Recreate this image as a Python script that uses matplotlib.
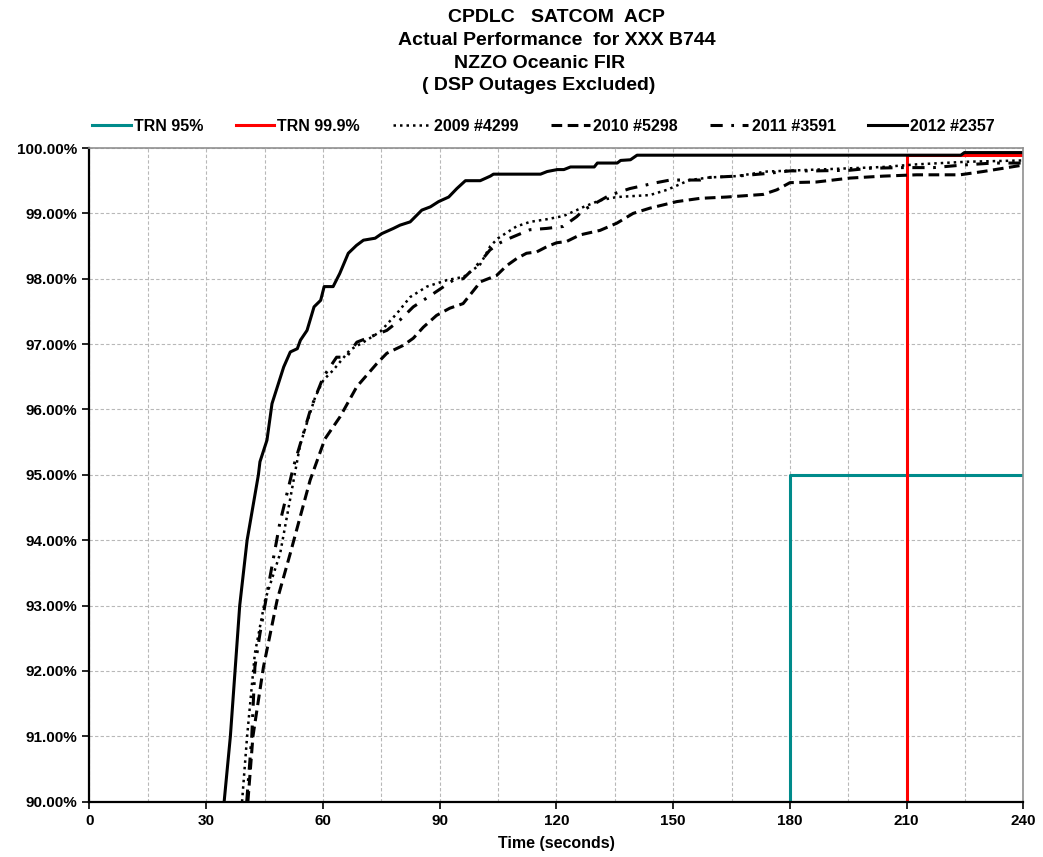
import matplotlib
matplotlib.use('Agg')
import matplotlib.pyplot as plt
from matplotlib.ticker import FuncFormatter, MultipleLocator

plt.rcParams['font.family'] = ['Liberation Sans', 'DejaVu Sans']
plt.rcParams['font.weight'] = 'bold'

# data (seconds, percent)
trn95_x = [180, 180, 240]
trn95_y = [90.0, 95.0, 95.0]
trn999_x = [210, 210, 240]
trn999_y = [90.0, 99.9, 99.9]

y2009_x = [39.2, 40.5, 41.6, 42.5, 45.1, 49.0, 51.5, 54.1, 55.9, 58.0, 60.1, 62.6,
           66.9, 70.4, 74.7, 79.0, 82.4, 86.7, 91.9, 96.2, 100.4, 103.0, 105.0,
           106.3, 109.7, 113.2, 117.5, 121.8, 125.2, 127.0, 131.2, 135.5, 144.0,
           148.4, 154.2, 159.4, 166.3, 174.0, 182.6, 195.5, 204.0, 212.6, 225.5, 240]
y2009_y = [90.0, 91.0, 91.7, 92.27, 93.08, 93.8, 94.61, 95.45, 95.8, 96.19, 96.45, 96.6,
           96.91, 97.03, 97.19, 97.47, 97.72, 97.88, 97.98, 98.03, 98.22, 98.5, 98.62,
           98.67, 98.80, 98.87, 98.91, 98.96, 99.05, 99.10, 99.20, 99.25, 99.28,
           99.36, 99.51, 99.55, 99.57, 99.64, 99.66, 99.69, 99.71, 99.75, 99.79, 99.81]

y2010_x = [40.7, 42.0, 43.4, 44.7, 48.2, 51.6, 54.1, 56.7, 60.5, 64.4, 68.7, 73.8,
           76.4, 80.6, 83.2, 85.8, 89.2, 92.6, 96.0, 99.5, 100.3, 104.6, 107.2,
           109.8, 112.3, 114.9, 117.5, 120.0, 122.6, 126.0, 131.2, 135.5, 139.7,
           144.0, 150.9, 156.9, 163.7, 173.1, 176.6, 180.0, 186.8, 195.4, 204.0,
           212.5, 223.7, 229.6, 240]
y2010_y = [90.0, 91.0, 91.55, 92.06, 93.08, 93.8, 94.35, 94.92, 95.55, 95.89, 96.35, 96.70,
           96.86, 96.98, 97.09, 97.26, 97.44, 97.55, 97.62, 97.88, 97.95, 98.05, 98.2,
           98.31, 98.39, 98.41, 98.49, 98.55, 98.57, 98.67, 98.74, 98.85, 99.0,
           99.08, 99.18, 99.23, 99.25, 99.29, 99.36, 99.47, 99.48, 99.54, 99.57,
           99.59, 99.59, 99.64, 99.74]

y2011_x = [40.4, 41.7, 42.5, 43.8, 45.9, 48.9, 52.4, 56.9, 60.1, 63.5, 66.0, 68.7,
           76.4, 79.8, 83.2, 88.3, 93.5, 96.0, 100.3, 102.9, 105.5, 108.0, 113.2,
           117.5, 121.7, 125.2, 126.9, 133.7, 138.9, 145.7, 149.2, 156.9, 159.4,
           166.3, 174.0, 180.0, 186.8, 195.4, 200.5, 208.2, 216.8, 224.5, 232.2, 240]
y2011_y = [90.0, 91.0, 92.06, 92.57, 93.28, 94.26, 95.12, 96.02, 96.50, 96.80, 96.80, 97.03,
           97.21, 97.37, 97.57, 97.77, 97.98, 98.00, 98.25, 98.44, 98.55, 98.62, 98.75,
           98.77, 98.8, 98.95, 99.05, 99.28, 99.38, 99.47, 99.51, 99.51, 99.55,
           99.57, 99.61, 99.65, 99.65, 99.66, 99.69, 99.70, 99.70, 99.74, 99.77, 99.77]

y2012_x = [34.6, 36.2, 37.4, 38.6, 40.5, 43.4, 43.8, 45.6, 46.9, 49.9, 51.6, 53.4,
           54.2, 55.9, 57.7, 59.4, 60.3, 62.6, 64.3, 66.5, 68.6, 70.4, 73.4, 75.1,
           78.1, 79.8, 82.4, 85.4, 87.6, 89.7, 92.3, 94.4, 96.6, 100.4, 103.0, 103.8,
           115.9, 117.6, 120.2, 121.9, 123.6, 129.7, 130.5, 135.6, 136.5, 139.0,
           140.7, 223.9, 224.8, 240]
y2012_y = [90.0, 91.0, 92.0, 93.0, 94.0, 95.0, 95.2, 95.53, 96.09, 96.65, 96.88, 96.93,
           97.06, 97.21, 97.57, 97.67, 97.88, 97.88, 98.08, 98.39, 98.51, 98.59, 98.62, 98.69,
           98.77, 98.82, 98.87, 99.05, 99.10, 99.18, 99.25, 99.38, 99.50, 99.50, 99.57, 99.60,
           99.60, 99.64, 99.67, 99.67, 99.71, 99.71, 99.77, 99.77, 99.81, 99.82,
           99.89, 99.89, 99.93, 99.93]

x_ticks = [0, 30, 60, 90, 120, 150, 180, 210, 240]

fig = plt.figure(figsize=(10.43, 8.57), dpi=100)
ax = fig.add_axes([0.0858, 0.0645, 0.8955, 0.7628])

ax.plot(trn95_x, trn95_y, color='#008b8b', lw=2.2, label='TRN 95%')
ax.plot(trn999_x, trn999_y, color='#ff0000', lw=2.2, label='TRN 99.9%')
ax.plot(y2009_x, y2009_y, color='black', lw=1.8, linestyle=(0, (1, 1.6)), label='2009 #4299')
ax.plot(y2010_x, y2010_y, color='black', lw=2.2, linestyle=(0, (3.5, 1.8)), label='2010 #5298')
ax.plot(y2011_x, y2011_y, color='black', lw=2.2, linestyle=(0, (4, 2.8, 0.9, 2.8)), label='2011 #3591')
ax.plot(y2012_x, y2012_y, color='black', lw=2.2, label='2012 #2357')

ax.set_xlim(0, 240)
ax.set_ylim(90, 100)
ax.set_xticks(x_ticks)
ax.xaxis.set_minor_locator(MultipleLocator(15))
ax.yaxis.set_major_locator(MultipleLocator(1))
ax.yaxis.set_major_formatter(FuncFormatter(lambda v, p: '%.2f%%' % v))
ax.tick_params(axis='both', which='major', labelsize=11, direction='out', length=5, width=1.2)
ax.tick_params(axis='y', which='major', pad=4)
ax.tick_params(axis='x', which='minor', length=0)
ax.tick_params(top=False, right=False)

ax.grid(True, which='both', color='#b8b8b8', linestyle=(0, (3, 2)), lw=0.8)
ax.set_axisbelow(True)

for s in ['left', 'bottom']:
    ax.spines[s].set_color('black')
    ax.spines[s].set_linewidth(1.6)
for s in ['top', 'right']:
    ax.spines[s].set_color('#909090')
    ax.spines[s].set_linewidth(1.2)

ax.set_xlabel('Time (seconds)', fontsize=11.5, fontweight='bold', labelpad=6)

ax.legend(loc='lower left', bbox_to_anchor=(-0.009, 1.005, 0.99, 0.05), mode='expand',
          ncol=6, frameon=False, fontsize=11.5, handlelength=2.4, handletextpad=0.2,
          borderaxespad=0.3)

title_lines = ['CPDLC   SATCOM  ACP', 'Actual Performance  for XXX B744',
               'NZZO Oceanic FIR', '( DSP Outages Excluded)']
title_x = [556, 557, 540, 539]
for i, t in enumerate(title_lines):
    fig.text(title_x[i] / 1043, 1 - (18 + 22.5 * i) / 857, t, ha='center', va='center',
             fontsize=14, fontweight='bold')

plt.savefig('out.png', dpi=100)
